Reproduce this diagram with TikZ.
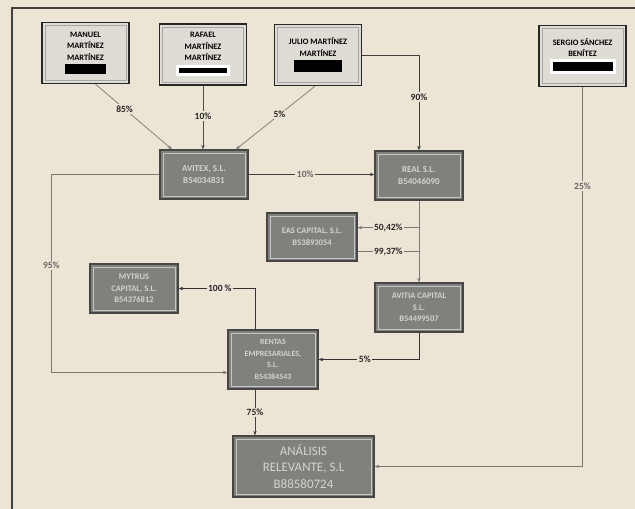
\documentclass[tikz,border=0pt]{standalone}
\usepackage{fontspec}
\setmainfont{Carlito}
\usetikzlibrary{arrows.meta,calc}
\definecolor{bg}{RGB}{236,228,213}
\definecolor{pfill}{RGB}{222,220,212}
\definecolor{cfill}{RGB}{128,128,124}
\definecolor{cdraw}{RGB}{70,70,68}
\definecolor{ctext}{RGB}{212,212,207}
\definecolor{lnc}{RGB}{120,120,116}
\tikzset{
  pbox/.style={draw=black!85, line width=1.3pt, fill=pfill, minimum width=87pt, minimum height=61pt, align=center, inner sep=1pt, font=\fontsize{8.3}{11.5}\selectfont\bfseries,
    path picture={\draw[gray!70, line width=0.8pt] ([shift={(3pt,-3pt)}]path picture bounding box.north west) rectangle ([shift={(-3pt,3pt)}]path picture bounding box.south east);}},
  cbox/.style={draw=cdraw, line width=1.3pt, fill=cfill, align=center, inner sep=1pt, text=ctext, font=\fontsize{9}{12}\selectfont\bfseries,
    path picture={\draw[gray!45, line width=0.7pt] ([shift={(3pt,-3pt)}]path picture bounding box.north west) rectangle ([shift={(-3pt,3pt)}]path picture bounding box.south east);}},
  conn/.style={draw=lnc, line width=0.7pt, -{Stealth[length=4.5pt,width=3.5pt]}},
  lbl/.style={fill=bg, inner sep=1.5pt, text=black!85, font=\fontsize{9.5}{11}\selectfont\bfseries}
}
\newcommand{\blackbar}[2]{\rule[-1pt]{#1}{#2}}
\newcommand{\whitebar}[2]{{\setlength\fboxsep{3pt}\colorbox{white}{\rule{#1}{#2}}}}
\begin{document}
\begin{tikzpicture}[x=1pt,y=-1pt]
\fill[bg] (0,0) rectangle (635,509);
\useasboundingbox (0,0) rectangle (635,509);
\draw[line width=1.5pt, draw=black!75] (12,509) -- (12,8) -- (635,8);

% persons
\node[pbox] (manuel) at (85.5,53) {MANUEL\\MARTÍNEZ\\MARTÍNEZ\\[1pt]\blackbar{41pt}{10pt}};
\node[pbox] (rafael) at (203,54.5) {RAFAEL\\MARTÍNEZ\\MARTÍNEZ\\[1pt]\whitebar{48pt}{5pt}};
\node[pbox] (julio) at (318,55) {JULIO MARTÍNEZ\\MARTÍNEZ\\[3pt]\blackbar{48pt}{12pt}};
\node[pbox] (sergio) at (582.5,56) {SERGIO SÁNCHEZ\\BENÍTEZ\\[1pt]\whitebar{60pt}{9pt}};

% companies
\node[cbox, minimum width=88pt, minimum height=49pt] (A) at (204,174.5) {AVITEX, S.L.\\B54034831};
\node[cbox, minimum width=88pt, minimum height=49pt] (B) at (419,175.5) {REAL S.L.\\B54046090};
\node[cbox, minimum width=90pt, minimum height=48pt, font=\fontsize{8.5}{12}\selectfont\bfseries] (C) at (312,237) {EAS CAPITAL, S.L.\\B53893054};
\node[cbox, minimum width=88pt, minimum height=49pt, font=\fontsize{8.5}{11.5}\selectfont\bfseries] (D) at (419,307.5) {AVITIA CAPITAL\\S.L.\\B54499507};
\node[cbox, minimum width=88pt, minimum height=49pt, font=\fontsize{8.5}{11.5}\selectfont\bfseries] (E) at (134,288.5) {MYTRUS\\CAPITAL, S.L.\\B54376812};
\node[cbox, minimum width=90pt, minimum height=59pt, font=\fontsize{8}{11.5}\selectfont\bfseries] (F) at (273,359.5) {RENTAS\\EMPRESARIALES,\\S.L.\\B54384543};
\node[cbox, minimum width=141pt, minimum height=61pt, font=\fontsize{13}{16.5}\selectfont] (G) at (303.5,466.5) {ANÁLISIS\\RELEVANTE, S.L\\B88580724};

% connectors
\draw[conn] ([xshift=10pt]manuel.south) -- node[lbl,pos=0.38]{85\%} ([xshift=-32pt]A.north);
\draw[conn, draw=black!70] (rafael.south) -- node[lbl,pos=0.48]{10\%} (rafael.south |- A.north);
\draw[conn] ([xshift=-3pt]julio.south) -- node[lbl,pos=0.45]{5\%} ([xshift=32pt]A.north);
\draw[conn, draw=black!75] (julio.east) -| node[lbl,pos=0.72]{90\%} (B.north);
\draw[conn, draw=black!75] (A.east) -- node[lbl,pos=0.45, text=black!60]{10\%} (A.east -| B.west);
\draw[conn] (B.south) -- (D.north);
\coordinate (c1) at ($(B.south)+(0,27)$);
\coordinate (c2) at ($(B.south)+(0,51)$);
\draw[conn] (c1) -- node[lbl,pos=0.5]{50,42\%} (c1 -| C.east);
\draw[lnc, line width=0.7pt] (c2 -| C.east) -- node[lbl,pos=0.5]{99,37\%} (c2);
\draw[conn, draw=black!80] (D.south) |- node[lbl,pos=0.77]{5\%} (F.east);
\draw[conn, draw=black!80] ([xshift=-18pt]F.north) |- node[lbl,pos=0.73]{100 \%} (E.east);
\coordinate (aL) at ($(A.west)+(-108,0)$);
\draw[conn] (A.west) -- (aL) |- node[lbl,pos=0.23,text=black!60]{95\%} ([yshift=-13pt]F.west);
\draw[conn, draw=black!75] ([xshift=-18pt]F.south) -- node[lbl,pos=0.5]{75\%} ([xshift=-48.5pt]G.north);
\draw[conn] (sergio.south) |- node[lbl,pos=0.13,text=black!60]{25\%} (G.east);
\end{tikzpicture}
\end{document}
